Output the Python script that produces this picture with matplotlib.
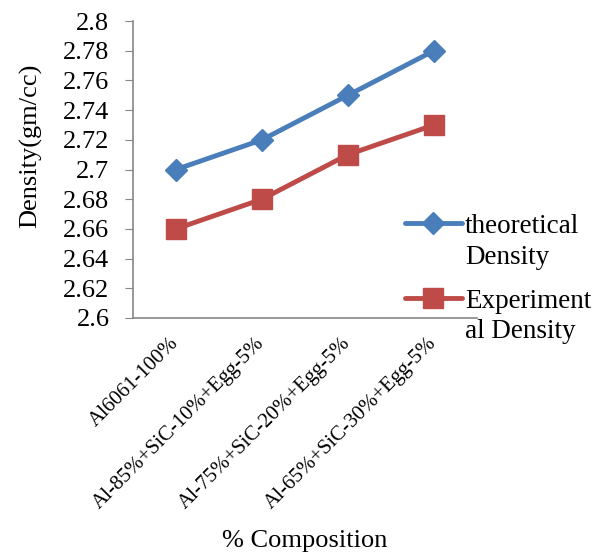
import matplotlib
matplotlib.use("Agg")
import matplotlib.pyplot as plt
import numpy as np

# data
categories = ["Al6061-100%", "Al-85%+SiC-10%+Egg-5%",
              "Al-75%+SiC-20%+Egg-5%", "Al-65%+SiC-30%+Egg-5%"]
theoretical = [2.70, 2.72, 2.75, 2.78]
experimental = [2.66, 2.68, 2.71, 2.73]
y_ticks = [2.6, 2.62, 2.64, 2.66, 2.68, 2.7, 2.72, 2.74, 2.76, 2.78, 2.8]

plt.rcParams['font.family'] = ['Liberation Serif', 'DejaVu Serif']

fig = plt.figure(figsize=(5.98, 5.54), dpi=100)
ax = fig.add_axes([0.2224, 0.426, 0.575, 0.536])

x = np.arange(len(categories))
ax.plot(x, theoretical, color='#4A7EBB', lw=3.5, marker='D', markersize=11.5,
        solid_capstyle='round', label='theoretical\nDensity')
ax.plot(x, experimental, color='#BE4B48', lw=3.5, marker='s', markersize=14,
        solid_capstyle='round', label='Experiment\nal Density')

ax.set_xlim(-0.5, len(categories) - 0.5)
ax.set_ylim(2.6, 2.8)
ax.set_yticks(y_ticks)
ax.set_yticklabels([f"{v:g}" for v in y_ticks], fontsize=19)
ax.set_xticks(x)
ax.set_xticklabels(categories, rotation=45, ha='right', va='center',
                   rotation_mode='anchor', fontsize=15)
ax.tick_params(axis='x', length=0, pad=16)
ax.tick_params(axis='y', length=6, color='#868686', pad=11)

for side in ['top', 'right']:
    ax.spines[side].set_visible(False)
for side in ['left', 'bottom']:
    ax.spines[side].set_color('#868686')
    ax.spines[side].set_linewidth(1.2)

ax.set_ylabel('Density(gm/cc)', fontsize=19)
ax.yaxis.set_label_coords(-0.265, 0.58)
ax.set_xlabel('% Composition', fontsize=19)
ax.xaxis.set_label_coords(0.5, -0.715)

leg = fig.legend(loc='upper left', bbox_to_anchor=(0.677, 0.614), frameon=False,
                 fontsize=19.5, handlelength=2.1, handletextpad=0.12,
                 labelspacing=0.7, borderpad=0, borderaxespad=0)
for t in leg.get_texts():
    t.set_linespacing(1.3)
# put the handle next to the first line of each two-line label
for column in leg._legend_handle_box.get_children():
    for row in column.get_children():
        row.align = 'top'

fig.savefig('out.png', dpi=100)
